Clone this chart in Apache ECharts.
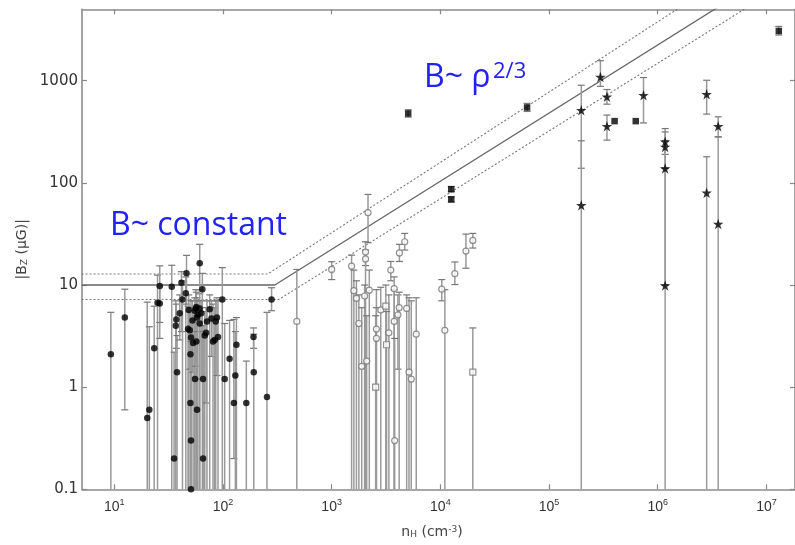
<!DOCTYPE html>
<html>
<head>
<meta charset="utf-8">
<script src="https://cdn.jsdelivr.net/npm/echarts@6/dist/echarts.min.js"></script>
<style>html,body{margin:0;padding:0;background:#fff}#c{width:795px;height:545px}</style>
</head>
<body>
<div id="c"></div>
<script>
// ---------- tick labels ----------
const xTickExps = [1, 2, 3, 4, 5, 6, 7];
const yTickValues = [0.1, 1, 10, 100, 1000];
const yTickLabels = ['0.1', '1', '10', '100', '1000'];

// ---------- HI (filled circles) : n_H, |Bz|, upper, lower (0.01 = below plot) ----------
const hiN  = [9.3,12.5,20.1,21,23.3,25,26.2,26.2,33.8,35.5,36.8,37.2,37.8,40,41.5,42.4,45.5,46.2,47.7,48.4,49.5,50.2,50.2,50.8,50.8,50.8,52.4,53.1,55,55.3,56.2,56.9,56.9,57.7,57.7,58.8,61.1,61.1,61,63,64.6,65.6,65.6,68,70,71.3,75.5,78.3,81,83.9,85.7,88,90,98.6,103.7,115,126,130,133,164,191,192,254,280];
const hiB  = [2.1,4.8,0.5,0.6,2.4,6.7,6.6,9.8,9.6,0.2,4.0,4.6,1.4,5.3,10.5,7.2,8.3,13,3.7,5.7,3.6,2.1,0.7,3.07,0.3,0.1,4.5,2.7,5.6,1.2,5.9,6.1,2.8,4.8,0.6,5.1,16.3,4.2,5.9,5.3,9.1,1.2,0.2,3.2,3.4,4.4,5.8,4.7,2.8,2.9,4.4,4.8,3.1,7.2,1.2,1.9,0.7,1.3,2.6,0.7,3.1,1.4,0.8,7.2];
const hiUp = [5.4,9.1,6.8,3.9,6.2,12.5,9.8,15.4,15.6,2.2,7.0,6.5,3.2,8.0,13.5,11,12,19.5,6.2,8.0,6.0,5.5,4.0,7.0,3.5,2.8,7.0,6.0,7.5,4.5,9.0,8.5,5.0,7.5,3.5,7.0,25,7.0,9.0,7.0,13,4.0,3.5,5.5,6.0,7.0,8.0,7.0,6.5,6.0,7.0,7.5,7.0,14.8,4.2,4.5,4.6,3.5,4.8,1.8,3.8,3.3,5.4,9.4];
const hiLo = [0.01,0.6,0.01,0.01,0.01,0.01,3.0,4.3,0.01,0.01,0.01,2.4,0.01,2.9,3.5,0.01,0.01,6.5,0.01,0.01,1.5,0.01,0.01,0.01,0.01,0.01,1.4,0.01,0.01,0.01,1.6,0.01,0.01,0.01,0.01,0.01,8.2,0.01,0.01,1.2,0.01,0.01,0.01,0.01,0.7,0.01,0.01,2.0,0.01,0.01,0.01,1.3,0.01,0.01,0.01,0.01,0.2,0.01,0.01,0.01,2.4,0.01,0.01,5.6];

// ---------- OH (open circles) ----------
const ohN  = [478,1000,2160,2050,2050,1525,1600,1690,2010,2220,1780,1890,2100,2580,2580,2830,3360,3500,3760,3760,4070,4180,3800,4200,4700,4900,5150,5400,6000,10300,11000,13600,17200,19900];
const ohB  = [4.4,14.2,51,21,18,15.3,8.8,7.4,7.8,8.9,4.2,1.6,1.8,3.7,3.0,5.7,3.4,14.0,9.2,4.4,5.1,6.0,0.3,20.6,26.5,5.9,1.4,1.2,3.3,9.1,3.6,12.9,21.5,27.3];
const ohUp = [14.2,16.9,77,26.5,22,19.6,14,11,10,14,8,6,5,9,6,9.5,8,17,12,9,8,8.5,3,25,32,8,7.5,7,7.5,11.3,9,16.8,31.5,32];
const ohLo = [0.01,11.3,26,15.5,0.01,0.01,0.01,0.01,0.01,0.01,0.01,0.01,0.01,0.01,0.01,0.01,0.01,11,0.01,0.01,1.5,0.01,0.01,17,22,0.01,0.01,0.01,0.01,7.0,0.01,10.1,14.6,23];

// ---------- open squares ----------
const osN  = [2540,3150,3200,19900];
const osB  = [1.0,6.2,2.6,1.4];
const osUp = [5,10,5.5,3.8];
const osLo = [0.01,0.01,0.01,0.01];

// ---------- filled squares ----------
const fsN  = [5060,12600,12600,62800,401000,628000,13000000];
const fsB  = [478,86.7,68.9,547,402,402,3070];
const fsUp = [520,92,73,600,402,402,3400];
const fsLo = [440,82,65,500,402,402,2800];

// ---------- stars ----------
const stN  = [198000,198000,297000,341000,341000,740000,1170000,1170000,1170000,1170000,2820000,2820000,3600000,3600000];
const stB  = [514,60.5,1090,695,359,721,252,225,138,9.9,738,79.8,359,39.5];
const stUp = [903,258,1570,820,461,1074,340,315,260,140,1010,180,443,282];
const stLo = [139,0.01,881,589,262,386,190,138,10,0.01,471,0.01,282,0.01];

// ---------- model lines ----------
const solidLine = [[5,10],[300,10],[10000000,10400]];
const upperLine = [[5,12.8],[258,12.8],[10000000,18400]];
const lowerLine = [[5,7.2],[325,7.2],[10000000,6830]];

const X_MIN = 0.703, X_MAX = 7.263, Y_MIN = -1, Y_MAX = 3.699;
const L = Math.log10;
const pts = (N, B) => N.map((n, i) => [L(n), L(B[i])]);
const errs = (N, B, U, D) => N.map((n, i) => [L(n), L(B[i]), L(U[i]), L(D[i])]);
const lineData = a => a.map(p => [L(p[0]), L(p[1])]);

function renderErr(params, api) {
  const x = api.value(0), hi0 = api.value(2), lo0 = api.value(3);
  const hi = Math.min(hi0, Y_MAX), lo = Math.max(lo0, Y_MIN);
  const pt = api.coord([x, hi]), pb = api.coord([x, lo]);
  const w = 3.5;
  const ch = [{type: 'line', shape: {x1: pt[0], y1: pt[1], x2: pb[0], y2: pb[1]}, style: {stroke: '#9a9a9a', lineWidth: 1.5}}];
  if (hi0 <= Y_MAX && hi0 !== lo0) ch.push({type: 'line', shape: {x1: pt[0]-w, y1: pt[1], x2: pt[0]+w, y2: pt[1]}, style: {stroke: '#777', lineWidth: 1.2}});
  if (lo0 >= Y_MIN && hi0 !== lo0) ch.push({type: 'line', shape: {x1: pb[0]-w, y1: pb[1], x2: pb[0]+w, y2: pb[1]}, style: {stroke: '#777', lineWidth: 1.2}});
  return {type: 'group', children: ch};
}
const errSeries = d => ({type: 'custom', renderItem: renderErr, data: d, encode: {x: 0, y: 1}, silent: true, z: 2});

const starPath = 'path://M50,0 L61.8,35.3 L98.9,35.3 L68.9,57.3 L80.3,92.6 L50,70.8 L19.7,92.6 L31.1,57.3 L1.1,35.3 L38.2,35.3 Z';

const tickStyle = {color: '#888', width: 1.2};
const yTicks = yTickValues.map(v => L(v));
const axisLineStyle = {show: true, onZero: false, lineStyle: {color: '#8c8c8c', width: 1.6}};

const chart = echarts.init(document.getElementById('c'));
chart.setOption({
  animation: false,
  backgroundColor: '#fff',
  grid: {left: 82, top: 9.3, width: 715, height: 480, containLabel: false},
  xAxis: [
    {type: 'value', min: X_MIN, max: X_MAX, position: 'bottom', axisLine: axisLineStyle,
     axisTick: {show: true, inside: true, length: 5, lineStyle: tickStyle, customValues: xTickExps},
     splitLine: {show: false},
     axisLabel: {customValues: xTickExps, margin: 9, color: '#333', fontFamily: 'Liberation Sans',
       formatter: v => '{b|10}{s|' + Math.round(v) + '}',
       rich: {b: {fontSize: 14, lineHeight: 18, fontFamily: 'Liberation Sans', color: '#333'},
              s: {fontSize: 9, lineHeight: 10, verticalAlign: 'top', fontFamily: 'Liberation Sans', color: '#333'}}}},
    {type: 'value', min: X_MIN, max: X_MAX, position: 'top', axisLine: axisLineStyle,
     axisTick: {show: true, inside: true, length: 5, lineStyle: tickStyle, customValues: xTickExps},
     axisLabel: {show: false}, splitLine: {show: false}}
  ],
  yAxis: [
    {type: 'value', min: Y_MIN, max: Y_MAX, position: 'left', axisLine: axisLineStyle,
     axisTick: {show: true, inside: true, length: 5, lineStyle: tickStyle, customValues: yTicks},
     splitLine: {show: false},
     axisLabel: {customValues: yTicks, margin: 4, color: '#333', fontSize: 15, fontFamily: 'DejaVu Sans',
       formatter: v => yTickLabels[Math.round(v) + 1]},
     name: '|B{z|Z} (µG)|', nameLocation: 'middle', nameRotate: 90, nameGap: 50,
     nameTextStyle: {fontSize: 14, color: '#444', fontFamily: 'DejaVu Sans',
       rich: {z: {fontSize: 9, verticalAlign: 'bottom', lineHeight: 9, color: '#444', fontFamily: 'DejaVu Sans'}}}},
    {type: 'value', min: Y_MIN, max: Y_MAX, position: 'right', axisLine: axisLineStyle,
     axisTick: {show: true, inside: true, length: 5, lineStyle: tickStyle, customValues: yTicks},
     axisLabel: {show: false}, splitLine: {show: false}}
  ],
  graphic: [
    {type: 'text', left: 110, top: 210, z: 100,
     style: {text: 'B~ constant', fontSize: 32, fontFamily: 'Open Sans', fill: '#2222f5'}},
    {type: 'text', left: 424, top: 62, z: 100,
     style: {text: 'B~ ρ', fontSize: 32, fontFamily: 'Open Sans', fill: '#2222f5'}},
    {type: 'text', left: 493, top: 61, z: 100,
     style: {text: '2/3', fontSize: 22, fontFamily: 'Open Sans', fill: '#2222f5'}},
    {type: 'text', x: 432, y: 532, z: 100,
     style: {text: 'n{h|H} (cm{s|-3})', fontSize: 14, fontFamily: 'DejaVu Sans', fill: '#444', align: 'center', verticalAlign: 'middle',
       rich: {h: {fontSize: 9, verticalAlign: 'bottom', lineHeight: 9, fill: '#444', fontFamily: 'DejaVu Sans'},
              s: {fontSize: 9, verticalAlign: 'top', lineHeight: 9, fill: '#444', fontFamily: 'DejaVu Sans'}}}}
  ],
  series: [
    {type: 'line', data: lineData(solidLine), symbol: 'none', lineStyle: {color: '#666', width: 1.3}, silent: true, z: 1},
    {type: 'line', data: lineData(upperLine), symbol: 'none', lineStyle: {color: '#777', width: 1.1, type: [2, 2]}, silent: true, z: 1},
    {type: 'line', data: lineData(lowerLine), symbol: 'none', lineStyle: {color: '#777', width: 1.1, type: [2, 2]}, silent: true, z: 1},
    errSeries(errs(hiN, hiB, hiUp, hiLo)),
    errSeries(errs(ohN, ohB, ohUp, ohLo)),
    errSeries(errs(osN, osB, osUp, osLo)),
    errSeries(errs(fsN, fsB, fsUp, fsLo)),
    errSeries(errs(stN, stB, stUp, stLo)),
    {type: 'scatter', data: pts(hiN, hiB), symbol: 'circle', symbolSize: 6.5, itemStyle: {color: '#000'}, z: 5, silent: true},
    {type: 'scatter', data: pts(ohN, ohB), symbol: 'circle', symbolSize: 6, itemStyle: {color: '#fff', borderColor: '#777', borderWidth: 1.2}, z: 5, silent: true},
    {type: 'scatter', data: pts(osN, osB), symbol: 'rect', symbolSize: 6, itemStyle: {color: '#fff', borderColor: '#777', borderWidth: 1.2}, z: 5, silent: true},
    {type: 'scatter', data: pts(fsN, fsB), symbol: 'rect', symbolSize: 6.5, itemStyle: {color: '#000'}, z: 5, silent: true},
    {type: 'scatter', data: pts(stN, stB), symbol: starPath, symbolSize: 10.5, itemStyle: {color: '#000'}, z: 5, silent: true}
  ]
});
</script>
</body>
</html>
